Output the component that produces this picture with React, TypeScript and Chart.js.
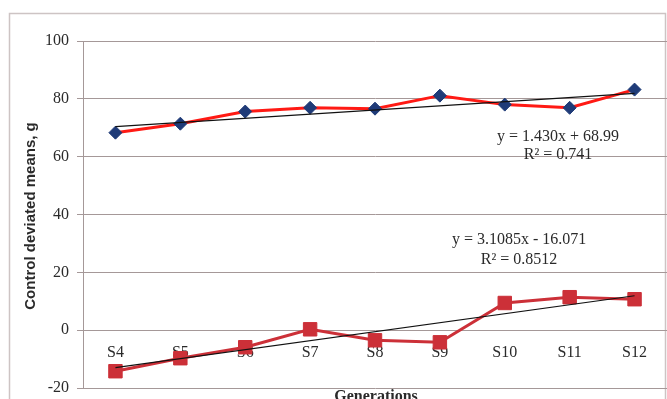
import React, { useEffect, useRef } from "react";
import { Chart, registerables } from "chart.js";

Chart.register(...registerables);

const generations = ["S4", "S5", "S6", "S7", "S8", "S9", "S10", "S11", "S12"];
const upperMeans = [68.3, 71.4, 75.6, 76.9, 76.6, 81.1, 78.0, 76.9, 83.2];
const lowerMeans = [-14.2, -9.7, -5.9, 0.3, -3.5, -4.2, 9.4, 11.4, 10.7];
// trend line end values (from the fitted equations shown)
const upperTrend = [70.42, null, null, null, null, null, null, null, 81.86];
const lowerTrend = [-12.96, null, null, null, null, null, null, null, 11.91];
const upperEquation = ["y = 1.430x + 68.99", "R² = 0.741"];
const lowerEquation = ["y = 3.1085x - 16.071", "R² = 0.8512"];
const yTicks = [-20, 0, 20, 40, 60, 80, 100];

const SERIF = "'Liberation Serif', 'Times New Roman', serif";
const GRID = "rgb(165,152,152)";

const overlayPlugin = {
  id: "overlay",
  beforeDraw(chart: any) {
    const ctx = chart.ctx;
    ctx.save();
    ctx.fillStyle = "#ffffff";
    ctx.fillRect(0, 0, chart.width, chart.height);
    ctx.strokeStyle = "rgb(205,196,196)";
    ctx.lineWidth = 1.5;
    ctx.strokeRect(9.5, 13.5, 656, 400);
    ctx.restore();
  },
  afterDraw(chart: any) {
    const ctx = chart.ctx;
    const x = chart.scales.x;
    const y = chart.scales.y;
    ctx.save();
    ctx.fillStyle = "#2a2a2a";
    ctx.textAlign = "center";
    ctx.textBaseline = "middle";
    ctx.font = `16px ${SERIF}`;
    const ux = x.getPixelForValue(6.82);
    ctx.fillText(upperEquation[0], ux, y.getPixelForValue(66.9));
    ctx.fillText(upperEquation[1], ux, y.getPixelForValue(60.7));
    const lx = x.getPixelForValue(6.22);
    ctx.fillText(lowerEquation[0], lx, y.getPixelForValue(31.2));
    ctx.fillText(lowerEquation[1], lx, y.getPixelForValue(24.3));
    // x axis title
    ctx.font = `bold 16px ${SERIF}`;
    ctx.textBaseline = "alphabetic";
    ctx.fillText("Generations", 376, 401);
    // y axis title
    ctx.translate(31, 216);
    ctx.rotate(-Math.PI / 2);
    ctx.textBaseline = "middle";
    ctx.font = "bold 15px 'Liberation Sans', Arial, sans-serif";
    ctx.fillText("Control deviated means, g", 0, 0);
    ctx.restore();
  },
};

export default function App() {
  const ref = useRef<HTMLCanvasElement | null>(null);
  useEffect(() => {
    if (!ref.current) return;
    const chart = new Chart(ref.current, {
      type: "line",
      data: {
        labels: generations,
        datasets: [
          {
            label: "trend upper",
            data: upperTrend,
            borderColor: "#111111",
            borderWidth: 1.2,
            pointRadius: 0,
            spanGaps: true,
            order: 0,
          },
          {
            label: "trend lower",
            data: lowerTrend,
            borderColor: "#111111",
            borderWidth: 1.2,
            pointRadius: 0,
            spanGaps: true,
            order: 0,
          },
          {
            label: "upper",
            data: upperMeans,
            borderColor: "#ff1a14",
            borderWidth: 3,
            pointStyle: "rectRot",
            pointRadius: 6.5,
            pointBackgroundColor: "#1f3b78",
            pointBorderColor: "#1f3b78",
            pointBorderWidth: 1,
            order: 1,
          },
          {
            label: "lower",
            data: lowerMeans,
            borderColor: "#cc3038",
            borderWidth: 3,
            pointStyle: "rect",
            pointRadius: 9.5,
            pointBackgroundColor: "#cc3038",
            pointBorderColor: "#cc3038",
            pointBorderWidth: 1,
            order: 1,
          },
        ],
      },
      options: {
        animation: false,
        responsive: true,
        maintainAspectRatio: false,
        layout: {
          autoPadding: false,
          padding: { top: 41, bottom: 11, left: 0, right: -4 },
        },
        plugins: { legend: { display: false }, tooltip: { enabled: false } },
        scales: {
          x: {
            type: "category",
            position: { y: 0 } as any,
            offset: true,
            grid: { display: false, drawTicks: false },
            border: { display: false },
            ticks: {
              padding: 13,
              color: "#2a2a2a",
              font: { family: SERIF, size: 16 },
            },
            afterFit(scale: any) {
              scale.height = 0;
              scale.paddingLeft = 0;
              scale.paddingRight = 0;
            },
          },
          y: {
            min: -20,
            max: 100,
            afterBuildTicks(scale: any) {
              scale.ticks = yTicks.map((v) => ({ value: v }));
            },
            grid: { color: GRID, lineWidth: 1, tickLength: 6 },
            border: { color: GRID, width: 1 },
            ticks: {
              padding: 8,
              color: "#2a2a2a",
              font: { family: SERIF, size: 16 },
            },
            afterFit(scale: any) {
              scale.width = 83;
              scale.paddingTop = 0;
              scale.paddingBottom = 0;
            },
          },
        },
      },
      plugins: [overlayPlugin],
    });
    return () => chart.destroy();
  }, []);
  return (
    <div style={{ position: "fixed", left: 0, top: 0, width: 667, height: 399 }}>
      <canvas ref={ref} />
    </div>
  );
}
